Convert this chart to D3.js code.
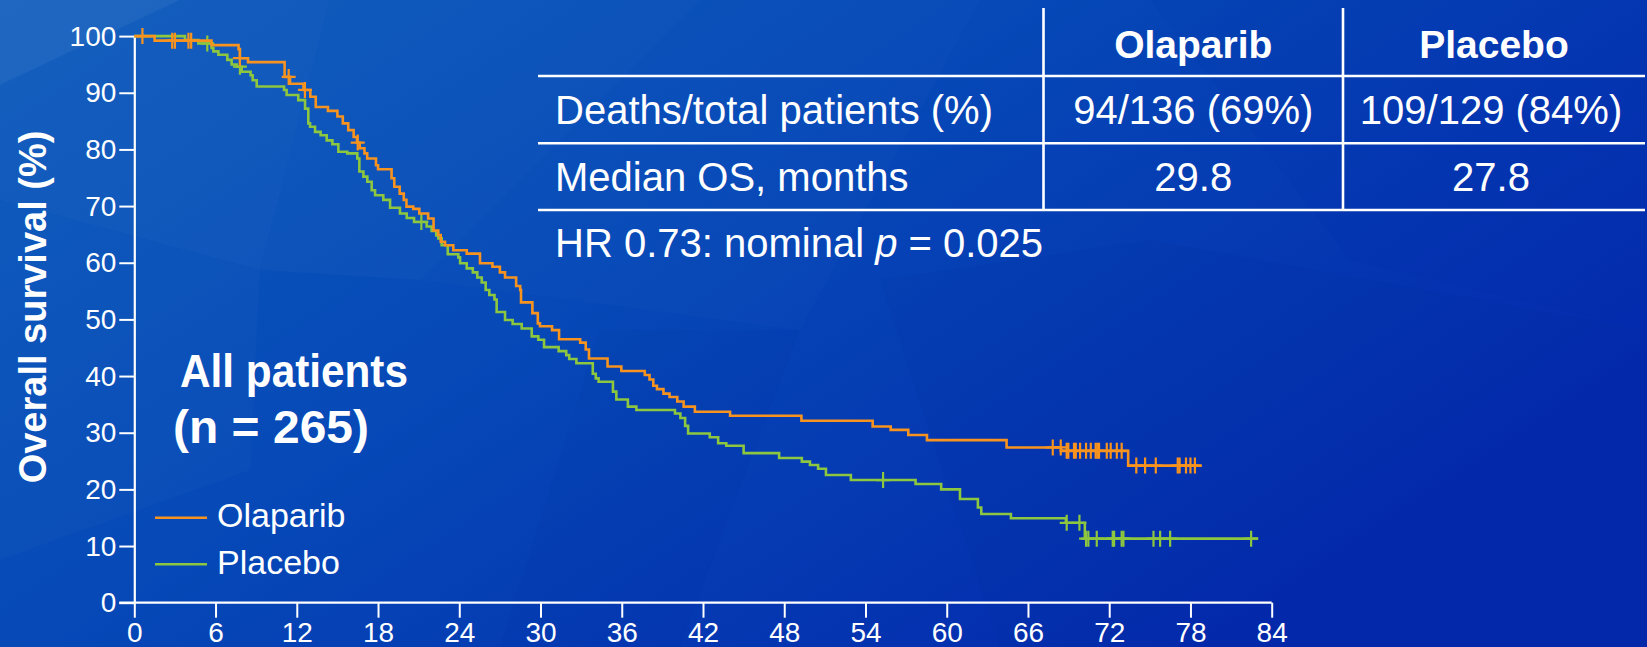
<!DOCTYPE html>
<html>
<head>
<meta charset="utf-8">
<script src="https://cdn.jsdelivr.net/npm/d3@7"></script>
<style>
  html, body { margin: 0; padding: 0; overflow: hidden; background: #0648b6; }
  svg { display: block; }
  text { font-family: "Liberation Sans", Arial, Helvetica, sans-serif; fill: #ffffff; }
</style>
</head>
<body>
<svg id="chart" width="1647" height="647"></svg>
<script>
// Kaplan–Meier steps: [month of change, overall survival (%) from that month on]
const olaparibSteps = [
  [0, 100], [1.5, 99.2], [5.7, 98.4], [7.7, 97.7], [7.8, 96.1], [8.4, 95.4], [11.1, 92.8],
  [11.5, 91.6], [12.5, 90.5], [13.0, 89.3], [13.4, 87.5], [14.3, 86.8], [15.0, 85.8],
  [15.4, 84.6], [15.8, 83.4], [16.2, 82.2], [16.45, 81.2], [16.65, 80.2], [17.0, 79.3],
  [17.2, 78.4], [17.85, 77.2], [18.0, 76.5], [19.0, 74.9], [19.2, 73.4], [19.6, 72.2],
  [19.9, 71.1], [20.1, 69.9], [20.6, 69.5], [21.05, 68.7], [21.7, 67.8], [22.1, 65.7],
  [22.45, 64.9], [22.63, 63.7], [22.95, 63.1], [23.56, 62.2], [24.55, 61.6], [25.53, 59.9],
  [26.45, 59.3], [27.0, 58.3], [27.38, 57.4], [28.2, 55.9], [28.5, 55.2], [28.56, 53.0],
  [29.4, 51.1], [29.8, 49.3], [29.96, 48.8], [30.85, 48.1], [31.37, 46.5], [32.93, 45.9],
  [33.34, 44.7], [33.58, 43.1], [34.95, 41.7], [35.97, 40.9], [37.7, 40.2], [38.05, 39.4],
  [38.33, 38.3], [38.6, 37.7], [39.08, 36.9], [39.53, 36.3], [40.1, 35.5], [40.57, 34.6],
  [41.4, 33.7], [44.0, 33.0], [49.27, 32.1], [54.53, 31.1], [55.86, 30.5], [57.16, 29.6],
  [58.54, 28.7], [64.42, 27.4], [68.45, 26.8], [73.4, 24.2]
];
const olaparibLastFollowUp = 78.8;
const olaparibCensored = [
  0.6, 2.8, 3.0, 4.0, 4.2, 7.8, 11.4, 12.6, 16.5, 67.83, 68.42, 68.86, 68.98, 69.4, 69.53,
  69.85, 70.29, 70.64, 71.0, 71.13, 71.25, 71.82, 72.11, 72.56, 72.92, 74.0, 74.65, 75.44,
  77.06, 77.2, 77.67, 78.0, 78.33
];

const placeboSteps = [
  [0, 100], [3.74, 99.3], [4.73, 98.7], [5.71, 97.9], [5.84, 97.3], [6.21, 96.7], [6.87, 95.8],
  [7.19, 95.0], [7.56, 94.6], [7.93, 93.7], [8.59, 93.1], [8.74, 92.2], [9.04, 91.1],
  [11.06, 90.5], [11.25, 89.6], [12.11, 88.7], [12.61, 87.2], [12.85, 84.6], [12.98, 84.0],
  [13.35, 83.1], [13.76, 82.5], [14.21, 81.6], [14.63, 80.9], [15.07, 79.6], [15.73, 79.3],
  [16.47, 78.4], [16.62, 76.1], [16.92, 75.2], [17.21, 74.3], [17.53, 72.8], [17.78, 71.9],
  [18.39, 71.1], [18.89, 69.7], [19.62, 68.7], [20.12, 67.9], [20.66, 67.2], [21.59, 66.4],
  [21.96, 65.6], [22.3, 64.8], [22.45, 64.3], [22.7, 63.1], [23.15, 61.5], [23.93, 60.95],
  [24.06, 59.9], [24.55, 59.0], [25.0, 58.3], [25.33, 57.4], [25.66, 56.5], [25.95, 55.2],
  [26.22, 54.3], [26.6, 53.5], [26.76, 51.3], [27.38, 49.9], [27.94, 49.2], [28.61, 48.4],
  [29.35, 47.0], [29.84, 46.4], [30.26, 45.1], [31.34, 44.4], [31.9, 43.7], [32.12, 43.0],
  [32.65, 42.25], [33.86, 40.4], [34.08, 39.6], [34.29, 39.0], [35.35, 37.25], [35.6, 35.85],
  [36.45, 34.6], [37.08, 34.0], [39.93, 33.4], [40.33, 32.6], [40.68, 31.2], [40.9, 29.85],
  [42.5, 29.2], [43.12, 28.13], [43.72, 27.7], [45.0, 26.4], [47.62, 25.55], [49.3, 24.9],
  [49.9, 24.3], [50.5, 23.65], [51.08, 22.54], [52.92, 21.65], [57.7, 20.95], [59.59, 20.0],
  [60.98, 18.3], [62.3, 16.8], [62.55, 15.65], [64.74, 14.9], [68.8, 14.1], [70.2, 11.3]
];
const placeboLastFollowUp = 83.0;
const placeboCensored = [
  5.39, 7.8, 21.2, 55.3, 68.86, 69.8, 70.29, 70.46, 71.08, 72.26, 72.36, 72.92, 73.05,
  75.27, 75.76, 76.5, 82.48
];

const seriesNames = ["Olaparib", "Placebo"];
const seriesColors = ["#f7931e", "#8dc63f"];

const xTicks = [0, 6, 12, 18, 24, 30, 36, 42, 48, 54, 60, 66, 72, 78, 84];
const yTicks = [0, 10, 20, 30, 40, 50, 60, 70, 80, 90, 100];
const yTitle = "Overall survival (%)";
const panelTitle = ["All patients", "(n = 265)"];

const tableHeader = ["", "Olaparib", "Placebo"];
const tableRows = [
  ["Deaths/total patients (%)", "94/136 (69%)", "109/129 (84%)"],
  ["Median OS, months", "29.8", "27.8"]
];
const hazardNote = ["HR 0.73: nominal ", "p", " = 0.025"];

// ---------------------------------------------------------------------------
const W = 1647, H = 647;
const svg = d3.select("#chart");

// Slide background: blue gradient with faint faceted panes
const defs = svg.append("defs");
const bg = defs.append("linearGradient").attr("id", "bg")
  .attr("x1", "0").attr("y1", "0").attr("x2", "1").attr("y2", "0.6");
bg.append("stop").attr("offset", "0").attr("stop-color", "#0c5bbc");
bg.append("stop").attr("offset", "0.45").attr("stop-color", "#0649b7");
bg.append("stop").attr("offset", "1").attr("stop-color", "#0429ad");
svg.append("rect").attr("width", W).attr("height", H).attr("fill", "url(#bg)");

const facets = [
  { pts: [[0, 0], [180, 0], [0, 85]], op: 0.08, c: "#ffffff" },
  { pts: [[0, 85], [180, 0], [330, 0], [260, 270], [0, 200]], op: 0.035, c: "#ffffff" },
  { pts: [[260, 270], [330, 0], [700, 0], [420, 280]], op: 0.025, c: "#ffffff" },
  { pts: [[0, 200], [260, 270], [250, 470], [0, 560]], op: 0.02, c: "#ffffff" },
  { pts: [[420, 280], [700, 0], [980, 0], [800, 330]], op: 0.015, c: "#ffffff" },
  { pts: [[500, 647], [600, 330], [800, 330], [680, 647]], op: 0.04, c: "#001a80" },
  { pts: [[880, 280], [1150, 240], [1647, 330], [1647, 647], [1000, 647]], op: 0.06, c: "#001a90" },
  { pts: [[1150, 0], [1647, 0], [1647, 330], [1350, 260]], op: 0.04, c: "#001a90" }
];
svg.append("g").selectAll("polygon").data(facets).join("polygon")
  .attr("points", d => d.pts.map(p => p.join(",")).join(" "))
  .attr("fill", d => d.c).attr("fill-opacity", d => d.op);

// Scales
const x = d3.scaleLinear().domain([0, 84]).range([134.3, 1271.7]);
const y = d3.scaleLinear().domain([0, 100]).range([602.7, 36.1]);

// Axes
const axisStyle = g => {
  g.selectAll(".domain").attr("stroke", "#fff").attr("stroke-width", 2.2);
  g.selectAll(".tick line").attr("stroke", "#fff").attr("stroke-width", 2);
  g.selectAll(".tick text").attr("fill", "#fff")
    .style("font-family", "'Liberation Sans', Arial, sans-serif").style("font-size", "28px");
};
svg.append("g").attr("transform", `translate(0,${y(0)})`)
  .call(d3.axisBottom(x).tickValues(xTicks).tickFormat(d3.format("d"))
    .tickSize(15).tickSizeOuter(0).tickPadding(4))
  .call(axisStyle)
  .call(g => g.select(".domain").attr("d", `M${x(0) - 15},0H${x(84)}`));
svg.append("g").attr("transform", `translate(${x(0)},0)`)
  .call(d3.axisLeft(y).tickValues(yTicks).tickFormat(d3.format("d"))
    .tickSize(15).tickSizeOuter(0).tickPadding(3))
  .call(axisStyle);

svg.append("text")
  .attr("transform", `translate(46,307) rotate(-90)`)
  .attr("text-anchor", "middle").style("font-size", "38px").style("font-weight", "bold")
  .text(yTitle);

// Survival curves
const stepLine = d3.line().x(d => x(d[0])).y(d => y(d[1])).curve(d3.curveStepAfter);
const survivalAt = (steps, t) => {
  let v = steps[0][1];
  for (const s of steps) { if (s[0] <= t) v = s[1]; else break; }
  return v;
};
const series = [
  { steps: olaparibSteps, end: olaparibLastFollowUp, cens: olaparibCensored, color: seriesColors[0] },
  { steps: placeboSteps, end: placeboLastFollowUp, cens: placeboCensored, color: seriesColors[1] }
];
const curves = svg.append("g");
series.slice().reverse().forEach(s => {
  const pts = s.steps.concat([[s.end, s.steps[s.steps.length - 1][1]]]);
  const g = curves.append("g");
  g.append("path").attr("d", stepLine(pts)).attr("fill", "none")
    .attr("stroke", s.color).attr("stroke-width", 2.6);
  g.selectAll("path.cens").data(s.cens).join("path").attr("class", "cens")
    .attr("d", t => {
      const cx = x(t), cy = y(survivalAt(s.steps, t));
      return `M${cx},${cy - 8}V${cy + 8}M${cx - 7},${cy}H${cx + 7}`;
    })
    .attr("fill", "none").attr("stroke", s.color).attr("stroke-width", 2.2);
});

// Panel title (set slightly condensed)
svg.append("text").attr("x", 180).attr("y", 386.5)
  .attr("textLength", 228).attr("lengthAdjust", "spacingAndGlyphs")
  .style("font-size", "47px").style("font-weight", "bold").text(panelTitle[0]);
svg.append("text").attr("x", 173).attr("y", 443)
  .attr("textLength", 196).attr("lengthAdjust", "spacingAndGlyphs")
  .style("font-size", "47px").style("font-weight", "bold").text(panelTitle[1]);

// Legend
const legend = svg.append("g");
seriesNames.forEach((name, i) => {
  const ly = 517.7 + i * 46.6;
  legend.append("line").attr("x1", 155).attr("x2", 207).attr("y1", ly).attr("y2", ly)
    .attr("stroke", seriesColors[i]).attr("stroke-width", 2.6);
  legend.append("text").attr("x", 217).attr("y", ly + 9.6).style("font-size", "34px").text(name);
});

// Summary table
const tbl = svg.append("g");
const colX = [538, 1043.5, 1343, 1645];
const rowY = [8, 76, 143.3, 210];
const lineStyle = sel => sel.attr("stroke", "#fff").attr("stroke-width", 2.6);
rowY.slice(1).forEach(ry => tbl.append("line").attr("x1", colX[0]).attr("x2", colX[3])
  .attr("y1", ry).attr("y2", ry).call(lineStyle));
[colX[1], colX[2]].forEach(cx => tbl.append("line").attr("x1", cx).attr("x2", cx)
  .attr("y1", rowY[0]).attr("y2", rowY[3]).call(lineStyle));
const colCenter = i => (colX[i] + colX[i + 1]) / 2;
tableHeader.forEach((h, i) => {
  if (!h) return;
  tbl.append("text").attr("x", colCenter(i)).attr("y", 58).attr("text-anchor", "middle")
    .style("font-size", "39px").style("font-weight", "bold").text(h);
});
const rowBase = [124, 191];
tableRows.forEach((row, r) => {
  row.forEach((cell, i) => {
    tbl.append("text")
      .attr("x", i === 0 ? 555 : colCenter(i) - (i === 2 ? 3 : 0)).attr("y", rowBase[r])
      .attr("text-anchor", i === 0 ? "start" : "middle")
      .style("font-size", "40px").text(cell);
  });
});
const hr = tbl.append("text").attr("x", 555).attr("y", 257).style("font-size", "40px");
hr.append("tspan").text(hazardNote[0]);
hr.append("tspan").style("font-style", "italic").text(hazardNote[1]);
hr.append("tspan").text(hazardNote[2]);
</script>
</body>
</html>
